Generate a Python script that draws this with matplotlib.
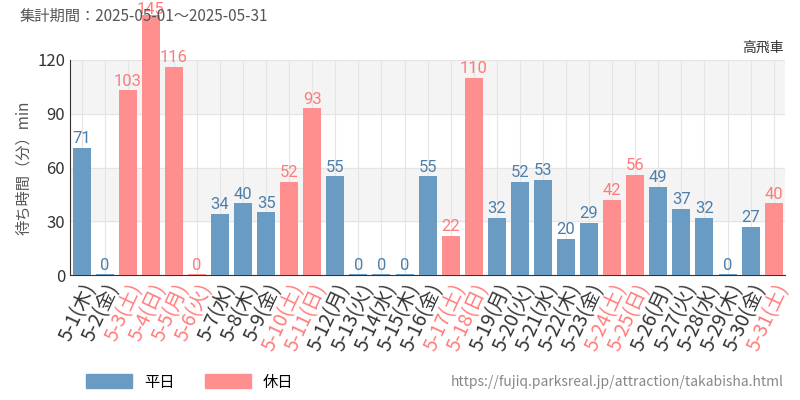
import matplotlib
matplotlib.use("Agg")
import matplotlib.pyplot as plt
from matplotlib.patches import Patch

plt.rcParams["font.family"] = ["Noto Sans CJK JP"]

days = ["5-1","5-2","5-3","5-4","5-5","5-6","5-7","5-8","5-9","5-10","5-11","5-12","5-13","5-14","5-15","5-16","5-17","5-18","5-19","5-20","5-21","5-22","5-23","5-24","5-25","5-26","5-27","5-28","5-29","5-30","5-31"]
weekdays = ["木","金","土","日","月","火","水","木","金","土","日","月","火","水","木","金","土","日","月","火","水","木","金","土","日","月","火","水","木","金","土"]
values = [71,0,103,145,116,0,34,40,35,52,93,55,0,0,0,55,22,110,32,52,53,20,29,42,56,49,37,32,0,27,40]
holiday = ["5-3","5-4","5-5","5-6","5-10","5-11","5-17","5-18","5-24","5-25","5-31"]

c_w, c_h = "#6a9bc3", "#ff8f8f"
t_w, t_h = "#4d7fab", "#ff7b7b"

fig = plt.figure(figsize=(8, 4), dpi=100)
ax = fig.add_axes([0.0875, 0.3125, 0.894, 0.5375])
ax.axhspan(30, 60, color="#f4f4f4", zorder=0)
ax.axhspan(90, 120, color="#f4f4f4", zorder=0)
x = list(range(len(days)))
for i, (d, v) in enumerate(zip(days, values)):
    h = d in holiday
    ax.bar(i, max(v, 0.4), width=0.78, color=c_h if h else c_w, clip_on=False, zorder=3)
    ax.text(i, min(v, 143) + 1.0, str(v), ha="center", va="bottom", fontsize=12,
            color=t_h if h else t_w, fontfamily="Roboto", fontstretch="condensed", zorder=4, clip_on=False)
ax.set_xlim(-0.5, len(days) - 0.5)
ax.set_ylim(0, 120)
ax.set_yticks([0, 30, 60, 90, 120])
ax.tick_params(axis="y", labelsize=12, length=0, labelcolor="#333")
ax.grid(True, color="#e4e4e4", lw=0.8, zorder=1)
ax.set_axisbelow(True)
ax.set_xticks(x)
ax.set_xticklabels([f"{d}({w})" for d, w in zip(days, weekdays)], rotation=65, ha="right",
                   rotation_mode="anchor", fontsize=14)
for lbl, d in zip(ax.get_xticklabels(), days):
    lbl.set_color(t_h if d in holiday else "#333")
ax.tick_params(axis="x", length=0, pad=4)
for s in ["top", "right"]:
    ax.spines[s].set_visible(False)
ax.spines["left"].set_color("#333")
ax.spines["bottom"].set_color("#333")
ax.set_ylabel("待ち時間（分）min", fontsize=11, color="#555")

fig.text(0.025, 0.96, "集計期間：2025-05-01〜2025-05-31", fontsize=11, color="#555", va="center")
fig.text(0.98, 0.88, "高飛車", fontsize=10, color="#333", ha="right", va="center")
fig.text(0.98, 0.045, "https://fujiq.parksreal.jp/attraction/takabisha.html", fontsize=10, color="#888", ha="right", va="center")
fig.legend(handles=[Patch(color=c_w, label="平日"), Patch(color=c_h, label="休日")],
           loc="center left", bbox_to_anchor=(0.09, 0.045), ncol=2, frameon=False, fontsize=11,
           handlelength=3, handleheight=1)
fig.savefig("out.png")
